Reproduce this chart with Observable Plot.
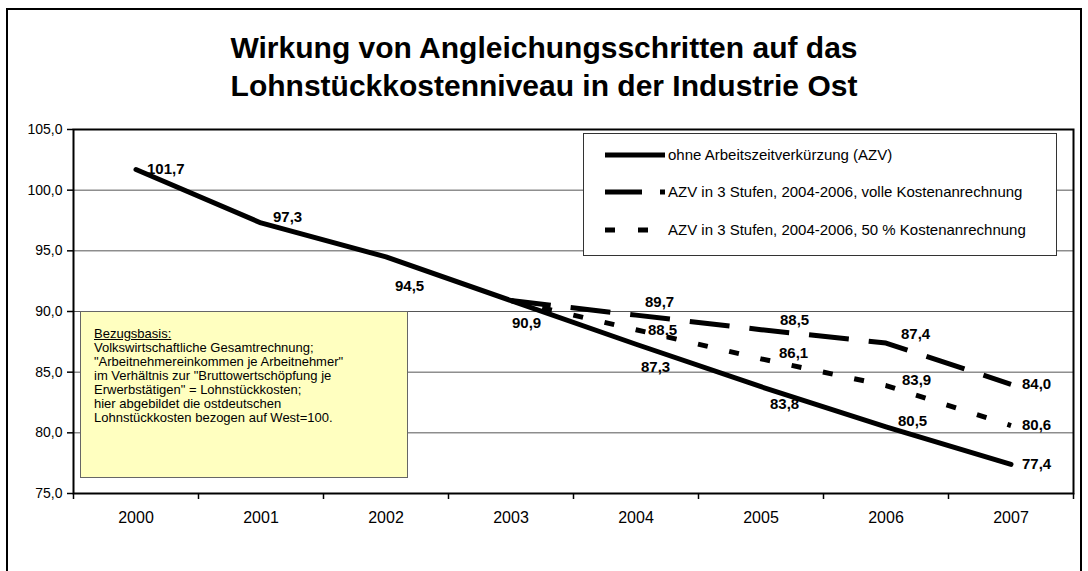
<!DOCTYPE html>
<html>
<head>
<meta charset="utf-8">
<script src="https://cdn.jsdelivr.net/npm/d3@7"></script>
<script src="https://cdn.jsdelivr.net/npm/@observablehq/plot@0.6"></script>
<style>
  html, body { margin: 0; padding: 0; background: #fff; width: 1088px; height: 571px; overflow: hidden; font-family: "Liberation Sans", Arial, sans-serif; }
  #frame { position: absolute; left: 6px; top: 8px; width: 1072px; height: 620px; border: 2px solid #000; pointer-events: none; z-index: 5; }
  #title { position: absolute; left: 0; top: 0; width: 1088px; height: 110px; text-align: center; font-weight: bold; font-size: 30px; line-height: 38px; padding-top: 29px; box-sizing: border-box; color: #000; }
  #chart { position: absolute; left: 0; top: 110px; }
  #legend { position: absolute; left: 583px; top: 133px; width: 472px; height: 121px; border: 1px solid #333; background: #fff; z-index: 3; }
  .leg { position: absolute; left: 0; height: 20px; width: 470px; font-size: 15px; }
  .leg svg { position: absolute; left: 20px; top: 0; }
  .leg span { position: absolute; left: 84px; top: 1px; white-space: nowrap; }
  #note { position: absolute; left: 80px; top: 311px; width: 328px; height: 167px; border: 1px solid #666; background: #FFFFC0; z-index: 3; font-size: 13px; line-height: 14px; box-sizing: border-box; padding: 15px 0 0 13px; white-space: nowrap; }
  #note u { text-decoration: underline; }
</style>
</head>
<body>
<div id="frame"></div>
<div id="title"></div>
<div id="chart"></div>
<div id="legend"></div>
<div id="note"></div>
<script>
// ---- data ----
const titleLines = ["Wirkung von Angleichungsschritten auf das", "Lohnstückkostenniveau in der Industrie Ost"];
const years = [2000, 2001, 2002, 2003, 2004, 2005, 2006, 2007];
const ohneAZV = [101.7, 97.3, 94.5, 90.9, 87.3, 83.8, 80.5, 77.4];
const azvYears = [2003, 2004, 2005, 2006, 2007];
const azvVoll = [90.9, 89.7, 88.5, 87.4, 84.0];
const azv50 = [90.9, 88.5, 86.1, 83.9, 80.6];
const yTicks = [75, 80, 85, 90, 95, 100, 105];
const seriesNames = [
  "ohne Arbeitszeitverkürzung (AZV)",
  "AZV in 3 Stufen, 2004-2006, volle Kostenanrechnung",
  "AZV in 3 Stufen, 2004-2006, 50 % Kostenanrechnung"
];
const noteHeading = "Bezugsbasis:";
const noteLines = [
  "Volkswirtschaftliche Gesamtrechnung;",
  "\"Arbeitnehmereinkommen je Arbeitnehmer\"",
  "im Verhältnis zur \"Bruttowertschöpfung je",
  "Erwerbstätigen\" = Lohnstückkosten;",
  "hier abgebildet die ostdeutschen",
  "Lohnstückkosten bezogen auf West=100."
];
// label placement offsets (px) relative to each point
const offOhne = [[11,0],[12,-6],[9,29],[1,23],[5,23],[9,17],[12,-6],[11,0]];
const offVoll = [null,[9,-13],[19,-10],[15,-9],[11,0]];
const off50 = [null,[12,0],[18,-6],[16,-5],[11,0]];

// ---- build ----
const fmt = v => v.toFixed(1).replace(".", ",");
const ohneData = years.map((y, i) => ({year: y, value: ohneAZV[i]}));
const vollData = azvYears.map((y, i) => ({year: y, value: azvVoll[i]}));
const halfData = azvYears.map((y, i) => ({year: y, value: azv50[i]}));

const dashes = [null, "40,20", "10,22"];

const labelMarks = [];
function addLabels(data, offs) {
  data.forEach((d, i) => {
    const o = offs[i];
    if (!o) return;
    labelMarks.push(Plot.text([d], {x: "year", y: "value", text: d => fmt(d.value), dx: o[0], dy: o[1], textAnchor: "start", fontWeight: "bold", fontSize: 15, fill: "#000"}));
  });
}
addLabels(ohneData, offOhne);
addLabels(vollData, offVoll);
addLabels(halfData, off50);

const boundaries = years.map(y => y - 0.5).concat([years[years.length - 1] + 0.5]);

const chart = Plot.plot({
  width: 1088,
  height: 461,
  marginLeft: 73,
  marginRight: 15,
  marginTop: 19,
  marginBottom: 78,
  style: {fontFamily: "Liberation Sans, Arial, sans-serif", background: "transparent", color: "#000"},
  x: {domain: [years[0] - 0.5, years[years.length - 1] + 0.5], axis: null},
  y: {domain: [75, 105], axis: null},
  marks: [
    Plot.gridY(yTicks.slice(1, -1), {stroke: "#555", strokeOpacity: 1, strokeWidth: 1}),
    Plot.line(vollData, {x: "year", y: "value", stroke: "#000", strokeWidth: 5, strokeDasharray: dashes[1], strokeLinecap: "butt", strokeLinejoin: "round"}),
    Plot.line(halfData, {x: "year", y: "value", stroke: "#000", strokeWidth: 5, strokeDasharray: dashes[2], strokeLinecap: "butt", strokeLinejoin: "round"}),
    Plot.line(ohneData, {x: "year", y: "value", stroke: "#000", strokeWidth: 5, strokeLinecap: "round", strokeLinejoin: "round"}),
    Plot.frame({stroke: "#000", strokeWidth: 2}),
    Plot.axisY({ticks: yTicks, tickFormat: fmt, tickSize: 6, tickPadding: 5, fontSize: 14, stroke: "#000", strokeWidth: 1.5, label: null}),
    Plot.axisX({ticks: boundaries, tickFormat: () => "", tickSize: 6, stroke: "#000", strokeWidth: 1.5, label: null}),
    Plot.axisX({ticks: years, tickFormat: d => String(d), tickSize: 0, tickPadding: 18, fontSize: 16, label: null}),
    ...labelMarks
  ]
});
document.getElementById("chart").appendChild(chart);

// title
document.getElementById("title").innerHTML = titleLines.join("<br>");

// legend
const legend = document.getElementById("legend");
const rowTops = [11, 48, 86];
seriesNames.forEach((name, i) => {
  const row = document.createElement("div");
  row.className = "leg";
  row.style.top = rowTops[i] + "px";
  const dash = dashes[i] ? `stroke-dasharray="${i === 1 ? '37,18' : '10,23'}"` : "";
  row.innerHTML = `<svg width="62" height="20"><line x1="1" y1="10" x2="61" y2="10" stroke="#000" stroke-width="5" ${dash} stroke-linecap="butt"/></svg><span>${name}</span>`;
  legend.appendChild(row);
});

// note
document.getElementById("note").innerHTML = `<u>${noteHeading}</u><br>` + noteLines.map(s => s.replace(/&/g, "&amp;")).join("<br>");
</script>
</body>
</html>
